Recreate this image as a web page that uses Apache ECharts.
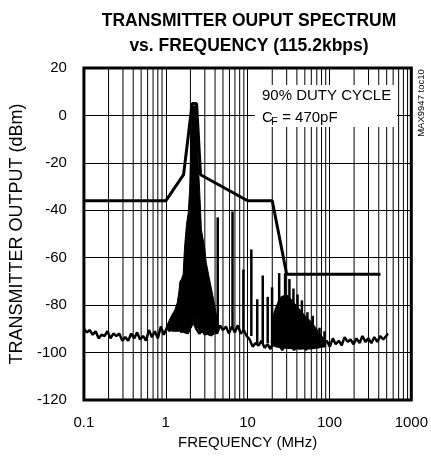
<!DOCTYPE html>
<html><head><meta charset="utf-8">
<script src="https://cdn.jsdelivr.net/npm/echarts@6/dist/echarts.min.js"></script>
<style>html,body{margin:0;padding:0;background:#fff}#c{width:431px;height:464px}</style>
</head><body><div id="c"></div><script>
// ---- data ----
const xTicks = [0.1, 1, 10, 100, 1000];
const yTicks = [-120, -100, -80, -60, -40, -20, 0, 20];
const minorGridFreq = [0.2,0.3,0.4,0.5,0.6,0.7,0.8,0.9,2,3,4,5,6,7,8,9,20,30,40,50,60,70,80,90,200,300,400,500,600,700,800,900];

// emission mask
const maskFreq  = [0.1, 1, 1.65, 2.1, 2.38, 2.66, 10, 20, 30, 420];
const maskLevel = [-36, -36, -25, 5, 5, -25, -36, -36, -67, -67];

// noise floor of the spectrum
const floorFreq = [0.1,0.109,0.118,0.128,0.139,0.151,0.164,0.179,0.194,0.211,0.229,0.249,0.271,0.294,0.32,0.348,0.378,0.411,0.447,0.485,0.528,0.573,0.623,0.678,0.736,0.8,0.87,0.946,1.03,1.12,1.21,1.32,1.43,1.56,1.69,1.84,2.0,2.17,2.36,2.57,2.79,3.03,3.3,3.58,3.9,4.23,4.6,5.0,5.44,5.91,6.42,6.98,7.59,8.25,8.97,9.75,10.6,11.5,12.5,13.6,14.8,16.1,17.5,19.0,20.7,22.5,24.4,26.5,28.8,31.3,34.1,37.0,40.3,43.8,47.6,51.7,56.2,61.1,66.4,72.2,78.5,85.3,92.7,101,110,119,130,141,153,167,181,197,214,233,253,275,299,325,353,384,417,454,493,518];
const floorLevel = [-90,-91.5,-90.5,-92.5,-91,-94,-92.5,-93,-91,-94,-92,-93,-92,-95,-93.5,-95,-92,-94,-91.5,-94.5,-93,-95,-90.5,-93.5,-91,-94,-89,-92.5,-89.5,-91,-87,-90.5,-88.5,-91.5,-88,-92,-89.5,-87,-90,-92,-90.5,-92.5,-89.5,-91,-90,-92,-88.5,-90.5,-89,-92,-89,-91.5,-88.5,-92,-90.5,-93,-94.5,-97.5,-96,-97,-95,-98,-96.5,-98.5,-95.5,-97.5,-96.5,-99,-96,-98,-97,-99,-96,-98.5,-96.5,-99,-95.5,-98,-96,-98,-95,-96.5,-95,-97.5,-94,-96.5,-95,-97,-93.5,-95.5,-94.5,-96.5,-94,-96,-93,-95.5,-94,-96,-93.5,-95.5,-93,-94.5,-93,-92];

// main emission lobe around the 2.2 MHz carrier (outline, upper edge then lower edge)
const lobeFreq  = [1.05,1.15,1.29,1.38,1.45,1.49,1.56,1.63,1.68,1.71,1.76,1.79,1.88,1.96,2.01,2.04,2.06,2.36,2.40,2.46,2.59,2.67,2.72,2.85,2.97,3.12,3.42,3.76,4.1,4.4, 4.4,3.6,3.0,2.6,2.3,2.15,2.05,1.8,1.5,1.2,1.05];
const lobeLevel = [-88,-85,-82,-79,-74,-70,-69,-67,-58,-54,-49,-46,-41,-31,-17,-5,4,4,-5,-17,-31,-41,-48,-52,-55,-62,-69,-76,-83,-88, -91,-93,-92,-91,-88,-86,-89,-92,-91,-91,-90];

// harmonic cluster 20-90 MHz (outline)
const clusterFreq  = [19.5,20.7,22,24,25.5,27.5,29,31,33,36,40,45,52,60,68,78,90, 90,60,40,25,19.5];
const clusterLevel = [-95,-84,-81,-78,-76.5,-76,-75.5,-76,-77,-78.5,-80.5,-82.5,-85,-87,-89.5,-92.5,-95, -97.5,-98.5,-98.5,-98,-97];

// discrete harmonic lines
const spikeFreq = [4.31,6.54,8.88,11.1,13.1,15.3,17.6,19.9,24.3,28.7,32.4,36.3,40.7,46.0,53.8,62.5,75.6,87];
const spikeTop  = [-43,-40.5,-65,-56.5,-77.5,-67.5,-76.5,-72.5,-66.5,-66.5,-69,-73,-75.5,-78,-83,-84.5,-89.5,-91];
const spikeBase = [-90,-90,-91,-93,-96,-96,-96,-96,-97,-97,-97,-97,-97,-97,-97,-97,-96,-96];

// ---- chart ----
const FONT = '"Liberation Sans", Arial, sans-serif';
const zip = (a, b) => a.map((v, i) => [v, b[i]]);
const chart = echarts.init(document.getElementById('c'), null, {renderer: 'canvas'});

function polygonSeries(fr, lv, z) {
  return {
    type: 'custom', z: z, silent: true, clip: true,
    data: [[fr[0], lv[0]]],
    renderItem: function (params, api) {
      const pts = fr.map((f, i) => api.coord([f, lv[i]]));
      return {type: 'polygon', shape: {points: pts}, style: {fill: '#000', stroke: '#000', lineWidth: 1}};
    }
  };
}

chart.setOption({
  animation: false,
  backgroundColor: '#fff',
  title: {
    text: 'TRANSMITTER OUPUT SPECTRUM\nvs. FREQUENCY (115.2kbps)',
    left: 244, top: 4, textAlign: 'center',
    textStyle: {fontFamily: FONT, fontSize: 17.5, fontWeight: 'bold', color: '#000', lineHeight: 25}
  },
  grid: {left: 81, right: 18, top: 68, bottom: 64, show: true, borderColor: '#000', borderWidth: 3, backgroundColor: 'transparent'},
  xAxis: {
    type: 'log', logBase: 10, min: xTicks[0], max: xTicks[xTicks.length - 1],
    name: 'FREQUENCY (MHz)', nameLocation: 'middle', nameGap: 31,
    nameTextStyle: {fontFamily: FONT, fontSize: 15, color: '#000'},
    axisLine: {show: false}, axisTick: {show: false},
    axisLabel: {fontFamily: FONT, fontSize: 15, color: '#000', margin: 15, formatter: v => String(v)},
    splitLine: {show: true, lineStyle: {color: '#000', width: 1}}
  },
  yAxis: {
    type: 'value', min: yTicks[0], max: yTicks[yTicks.length - 1], interval: 20,
    name: 'TRANSMITTER OUTPUT (dBm)', nameLocation: 'middle', nameGap: 55,
    nameTextStyle: {fontFamily: FONT, fontSize: 18, color: '#000'},
    axisLine: {show: false}, axisTick: {show: false},
    axisLabel: {fontFamily: FONT, fontSize: 15, color: '#000', margin: 17},
    splitLine: {show: true, lineStyle: {color: '#000', width: 1}}
  },
  series: [
    { // minor vertical grid lines
      type: 'custom', z: 1, silent: true, clip: true,
      data: minorGridFreq.map(f => [f, yTicks[0]]),
      renderItem: function (params, api) {
        const f = api.value(0);
        const a = api.coord([f, yTicks[0]]), b = api.coord([f, yTicks[yTicks.length - 1]]);
        return {type: 'line', shape: {x1: a[0], y1: a[1], x2: b[0], y2: b[1]}, style: {stroke: '#000', lineWidth: 1}};
      }
    },
    { // noise floor
      type: 'line', z: 3, data: zip(floorFreq, floorLevel), showSymbol: false, symbol: 'none',
      lineStyle: {color: '#000', width: 2.5}, silent: true
    },
    polygonSeries(lobeFreq, lobeLevel, 3),
    polygonSeries(clusterFreq, clusterLevel, 3),
    { // harmonic lines
      type: 'custom', z: 3, silent: true, clip: true,
      data: spikeFreq.map((f, i) => [f, spikeTop[i], spikeBase[i]]),
      renderItem: function (params, api) {
        const a = api.coord([api.value(0), api.value(1)]), b = api.coord([api.value(0), api.value(2)]);
        return {type: 'line', shape: {x1: a[0], y1: a[1], x2: b[0], y2: b[1]}, style: {stroke: '#000', lineWidth: 2.5}};
      }
    },
    { // emission mask
      type: 'line', z: 4, data: zip(maskFreq, maskLevel), showSymbol: false, symbol: 'none',
      lineStyle: {color: '#000', width: 3}, silent: true
    }
  ],
  graphic: [
    {type: 'rect', z: 50, shape: {x: 255, y: 85, width: 142, height: 42}, style: {fill: '#fff'}},
    {type: 'text', z: 51, x: 262, y: 96, style: {text: '90% DUTY CYCLE', fontFamily: FONT, fontSize: 15, fill: '#000', verticalAlign: 'middle'}},
    {type: 'text', z: 51, x: 262, y: 118, style: {text: 'C', fontFamily: FONT, fontSize: 15, fill: '#000', verticalAlign: 'middle'}},
    {type: 'text', z: 51, x: 271, y: 122, style: {text: 'F', fontFamily: FONT, fontSize: 11, fill: '#000', verticalAlign: 'middle'}},
    {type: 'text', z: 51, x: 278, y: 118, style: {text: ' = 470pF', fontFamily: FONT, fontSize: 15, fill: '#000', verticalAlign: 'middle'}},
    {type: 'text', z: 51, x: 421, y: 103, rotation: Math.PI / 2, style: {text: 'MAX9947 toc10', fontFamily: FONT, fontSize: 9.5, fill: '#000', align: 'center', verticalAlign: 'middle'}}
  ]
});
</script></body></html>
